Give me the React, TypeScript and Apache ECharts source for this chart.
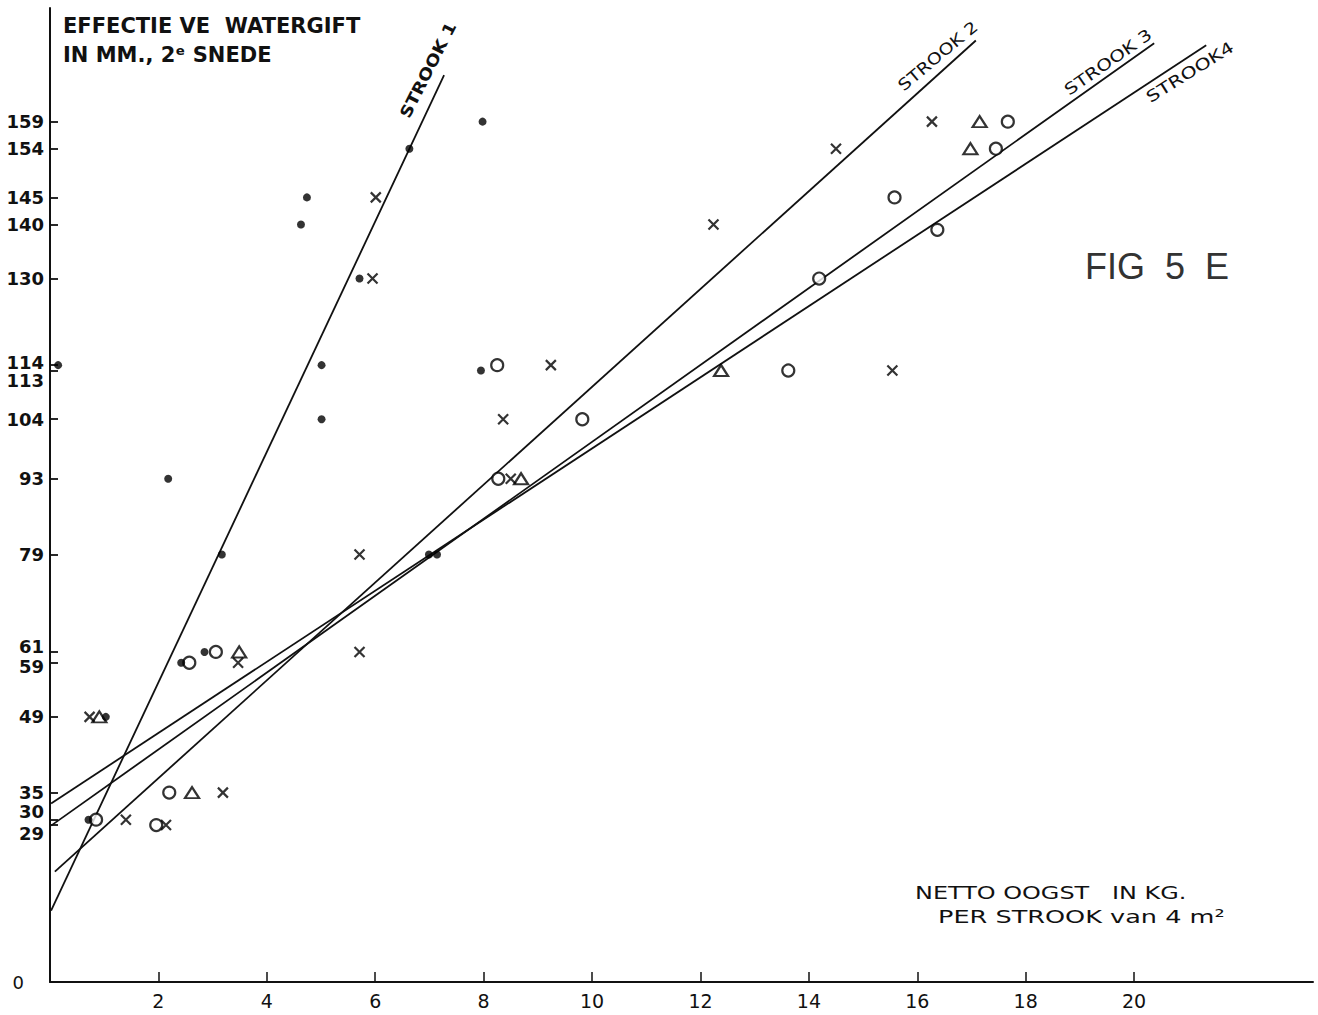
import React, { useEffect, useRef } from "react";
import * as echarts from "echarts";

// Axis ticks
const yTicks = [0, 29, 30, 35, 49, 59, 61, 79, 93, 104, 113, 114, 130, 140, 145, 154, 159];
const xTicks = [2, 4, 6, 8, 10, 12, 14, 16, 18, 20];

// Strook 1 (dots)
const dotPoints: [number, number][] = [
  [7.98, 159], [6.63, 154], [4.74, 145], [4.63, 140], [5.71, 130],
  [5.01, 114], [0.15, 114], [7.95, 113], [5.01, 104], [2.18, 93],
  [3.17, 79], [6.99, 79], [7.14, 79], [2.85, 61], [2.42, 59],
  [1.03, 49], [0.71, 30],
];
// Strook 2 (crosses)
const crossPoints: [number, number][] = [
  [16.27, 159], [14.5, 154], [6.01, 145], [12.24, 140], [5.95, 130],
  [9.24, 114], [15.54, 113], [8.36, 104], [8.5, 93], [5.71, 79],
  [5.71, 61], [3.47, 59], [0.73, 49], [3.19, 35], [1.4, 30], [2.14, 29],
];
// Strook 3 (circles)
const circlePoints: [number, number][] = [
  [17.67, 159], [17.45, 154], [15.58, 145], [16.37, 139], [14.19, 130],
  [8.25, 114], [13.62, 113], [9.82, 104], [8.27, 93], [3.06, 61],
  [2.57, 59], [2.2, 35], [0.85, 30], [1.96, 29],
];
// Strook 4 (triangles)
const trianglePoints: [number, number][] = [
  [17.15, 159], [16.98, 154], [12.38, 113], [8.69, 93], [3.49, 61],
  [0.91, 49], [2.62, 35],
];

// Fitted lines (end points)
const strook1Line: [number, number][] = [[0.02, 13.2], [7.27, 167.6]];
const strook2Line: [number, number][] = [[0.09, 20.4], [17.08, 174]];
const strook3Line: [number, number][] = [[0.02, 28.9], [20.37, 173.5]];
const strook4Line: [number, number][] = [[0.02, 33], [21.33, 173.1]];

const INK = "#111";

const labelShift: Record<number, string> = {
  0: "z", 114: "u3", 113: "d10", 30: "u8", 29: "d8", 61: "u5", 59: "d4",
};

const baseFont = { fontSize: 18, fontWeight: "bold" as const, fontFamily: "DejaVu Sans", color: INK };

export default function App() {
  const ref = useRef<HTMLDivElement>(null);
  useEffect(() => {
    if (!ref.current) return;
    const chart = echarts.init(ref.current, undefined, { renderer: "svg" });
    const lineSeries = (name: string, data: [number, number][]) => ({
      name,
      type: "line",
      data,
      symbol: "none",
      silent: true,
      z: 1,
      lineStyle: { color: INK, width: 1.8 },
    });
    chart.setOption({
      animation: false,
      backgroundColor: "#fff",
      textStyle: { fontFamily: "DejaVu Sans" },
      grid: { left: 50, right: 5, top: 8, bottom: 33, containLabel: false, outerBoundsMode: "none" },
      xAxis: {
        type: "value",
        min: 0,
        max: 23.3,
        splitLine: { show: false },
        axisLine: { lineStyle: { color: INK, width: 2 } },
        axisTick: { customValues: xTicks, inside: true, length: 10, lineStyle: { color: INK, width: 1.5 } },
        axisLabel: {
          customValues: xTicks,
          margin: 9,
          fontSize: 19,
          fontFamily: "DejaVu Sans",
          color: INK,
        },
      },
      yAxis: {
        type: "value",
        min: 0,
        max: 180,
        splitLine: { show: false },
        axisLine: { lineStyle: { color: INK, width: 2 } },
        axisTick: { customValues: yTicks, inside: true, length: 8, lineStyle: { color: INK, width: 1.8 } },
        axisLabel: {
          customValues: yTicks,
          margin: 6,
          ...baseFont,
          formatter: (v: number) => {
            const k = labelShift[v];
            return k ? `{${k}|${v}}` : `{n|${v}}`;
          },
          rich: {
            n: { ...baseFont },
            z: { ...baseFont, fontWeight: "normal", padding: [0, 20, 0, 0] },
            u3: { ...baseFont, padding: [0, 0, 6, 0] },
            u5: { ...baseFont, padding: [0, 0, 10, 0] },
            u8: { ...baseFont, padding: [0, 0, 16, 0] },
            d4: { ...baseFont, padding: [8, 0, 0, 0] },
            d8: { ...baseFont, padding: [16, 0, 0, 0] },
            d10: { ...baseFont, padding: [20, 0, 0, 0] },
          },
        },
      },
      series: [
        lineSeries("Strook 1", strook1Line),
        lineSeries("Strook 2", strook2Line),
        lineSeries("Strook 3", strook3Line),
        lineSeries("Strook 4", strook4Line),
        {
          name: "Strook 1 punten",
          type: "scatter",
          data: dotPoints,
          symbol: "circle",
          symbolSize: 8,
          z: 3,
          itemStyle: { color: "#000" },
        },
        {
          name: "Strook 2 punten",
          type: "scatter",
          data: crossPoints,
          symbol: "path://M0,0L10,10M10,0L0,10",
          symbolSize: 10,
          z: 3,
          itemStyle: { color: "transparent", borderColor: "#000", borderWidth: 2.2 },
        },
        {
          name: "Strook 3 punten",
          type: "scatter",
          data: circlePoints,
          symbol: "circle",
          symbolSize: 12,
          z: 2,
          itemStyle: { color: "#fff", borderColor: "#000", borderWidth: 2.2 },
        },
        {
          name: "Strook 4 punten",
          type: "scatter",
          data: trianglePoints,
          symbol: "triangle",
          symbolSize: [14, 11],
          z: 2,
          itemStyle: { color: "#fff", borderColor: "#000", borderWidth: 2.2 },
        },
      ],
      graphic: [
        {
          type: "text", left: 63, top: 15,
          style: { text: "EFFECTIE VE  WATERGIFT", fontSize: 21, fontWeight: "bold", fontFamily: "DejaVu Sans", fill: INK },
        },
        {
          type: "text", left: 63, top: 44,
          style: { text: "IN MM., 2ᵉ SNEDE", fontSize: 21, fontWeight: "bold", fontFamily: "DejaVu Sans", fill: INK },
        },
        {
          type: "text", x: 428, y: 70, rotation: (63 * Math.PI) / 180, scaleX: 1.15,
          style: { text: "STROOK 1", fontSize: 16, fontWeight: "bold", fontFamily: "DejaVu Sans", fill: INK, align: "center", verticalAlign: "middle" },
        },
        {
          type: "text", x: 938, y: 56, rotation: (40 * Math.PI) / 180, scaleX: 1.2,
          style: { text: "STROOK 2", fontSize: 16, fontFamily: "DejaVu Sans", fill: INK, align: "center", verticalAlign: "middle" },
        },
        {
          type: "text", x: 1108, y: 62, rotation: (35 * Math.PI) / 180, scaleX: 1.25,
          style: { text: "STROOK 3", fontSize: 16, fontFamily: "DejaVu Sans", fill: INK, align: "center", verticalAlign: "middle" },
        },
        {
          type: "text", x: 1190, y: 72, rotation: (32 * Math.PI) / 180, scaleX: 1.3,
          style: { text: "STROOK4", fontSize: 16, fontFamily: "DejaVu Sans", fill: INK, align: "center", verticalAlign: "middle" },
        },
        {
          type: "text", left: 1085, top: 248,
          style: { text: "FIG  5  E", fontSize: 36, fontFamily: "Liberation Sans", fill: "#333" },
        },
        {
          type: "text", x: 915, y: 884, scaleX: 1.33,
          style: { text: "NETTO OOGST   IN KG.", fontSize: 18, fontFamily: "DejaVu Sans", fill: INK },
        },
        {
          type: "text", x: 938, y: 907, scaleX: 1.42,
          style: { text: "PER STROOK van 4 m²", fontSize: 18, fontFamily: "DejaVu Sans", fill: INK },
        },
      ],
    });
    return () => chart.dispose();
  }, []);
  return (
    <div
      ref={ref}
      style={{ position: "absolute", left: 0, top: 0, width: 1318, height: 1015, background: "#fff" }}
    />
  );
}
